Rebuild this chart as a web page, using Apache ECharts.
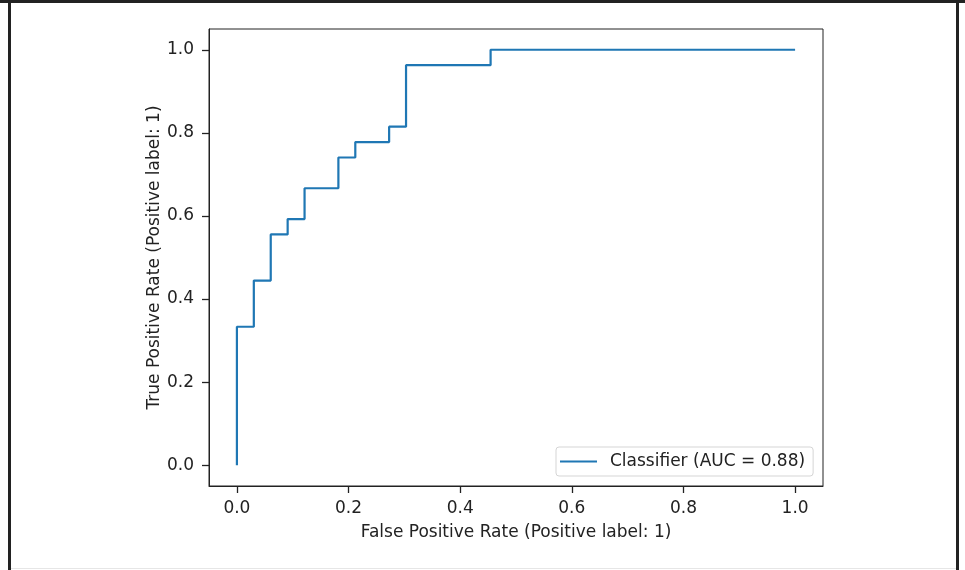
<!DOCTYPE html>
<html>
<head>
<meta charset="UTF-8">
<title>ROC curve</title>
<script type="text/javascript" src="https://cdn.jsdelivr.net/npm/echarts@6/dist/echarts.min.js"></script>
<style>
	body { margin: 0; background: #fff; }
	#div { width: 965px; height: 570px; }
</style>
</head>
<body>
	<div id="div"></div>

	<script type="text/javascript">
		// ROC curve points (step shape)
		var fpr = [0, 0, 0.0303, 0.0303, 0.0606, 0.0606, 0.0909, 0.0909, 0.1212, 0.1212,
			0.1818, 0.1818, 0.2121, 0.2121, 0.2727, 0.2727, 0.3030, 0.3030, 0.4545, 0.4545, 1.0];
		var tpr = [0, 0.3333, 0.3333, 0.4444, 0.4444, 0.5556, 0.5556, 0.5926, 0.5926, 0.6667,
			0.6667, 0.7407, 0.7407, 0.7778, 0.7778, 0.8148, 0.8148, 0.9630, 0.9630, 1.0, 1.0];
		var ticks = [0, 0.2, 0.4, 0.6, 0.8, 1.0];
		var seriesName = 'Classifier (AUC = 0.88)';
		var xName = 'False Positive Rate (Positive label: 1)';
		var yName = 'True Positive Rate (Positive label: 1)';

		var points = [];
		for (var i = 0; i < fpr.length; i++) {
			points.push([fpr[i], tpr[i]]);
		}

		var font = 'DejaVu Sans';
		var fs = 17;
		var mychart = echarts.init(document.getElementById('div'));
		var option = {
			animation : false,
			textStyle : { fontFamily : font },
			grid : {
				left : 209, right : 142, top : 29, bottom : 84,
				show : true, borderColor : '#222', borderWidth : 1, backgroundColor : '#fff'
			},
			legend : {
				left : 556, top : 447,
				padding : [6, 8, 6, 4],
				itemWidth : 37, itemHeight : 2,
				borderColor : '#d5d5d5', borderWidth : 1, borderRadius : 3,
				backgroundColor : '#fff',
				textStyle : { fontSize : fs, color : '#222', fontFamily : font, padding : [0, 0, 0, 8] },
				data : [ { name : seriesName, icon : 'path://M0,0L37,0L37,2L0,2Z' } ]
			},
			xAxis : {
				type : 'value', min : -0.05, max : 1.05,
				name : xName, nameLocation : 'middle', nameGap : 38, nameMoveOverlap : false,
				nameTextStyle : { fontSize : fs, color : '#222', fontFamily : font },
				splitLine : { show : false },
				axisLine : { show : true, onZero : false, lineStyle : { color : '#222', width : 1 } },
				axisTick : { show : true, inside : false, length : 7, customValues : ticks, lineStyle : { color : '#222', width : 1.3 } },
				axisLabel : {
					customValues : ticks, fontSize : fs, color : '#222', margin : 14, fontFamily : font,
					formatter : function(v) { return v.toFixed(1); }
				}
			},
			yAxis : {
				type : 'value', min : -0.05, max : 1.05,
				name : yName, nameLocation : 'middle', nameGap : 46, nameRotate : 90, nameMoveOverlap : false,
				nameTextStyle : { fontSize : fs, color : '#222', fontFamily : font },
				splitLine : { show : false },
				axisLine : { show : true, onZero : false, lineStyle : { color : '#222', width : 1 } },
				axisTick : { show : true, inside : false, length : 7, customValues : ticks, lineStyle : { color : '#222', width : 1.3 } },
				axisLabel : {
					customValues : ticks, fontSize : fs, color : '#222', margin : 15, fontFamily : font,
					formatter : function(v) { return v.toFixed(1); }
				}
			},
			series : [ {
				name : seriesName,
				type : 'line',
				data : points,
				symbol : 'none',
				lineStyle : { color : '#1f77b4', width : 2.2 },
				itemStyle : { color : '#1f77b4' }
			} ],
			graphic : [
				{ type : 'rect', shape : { x : 0, y : 0, width : 965, height : 3 }, style : { fill : '#222' } },
				{ type : 'rect', shape : { x : 8, y : 0, width : 3, height : 570 }, style : { fill : '#222' } },
				{ type : 'rect', shape : { x : 956, y : 0, width : 3, height : 570 }, style : { fill : '#222' } },
				{ type : 'rect', shape : { x : 11, y : 568, width : 945, height : 1 }, style : { fill : '#e6e6e6' } }
			]
		};
		mychart.setOption(option);
	</script>
</body>
</html>
